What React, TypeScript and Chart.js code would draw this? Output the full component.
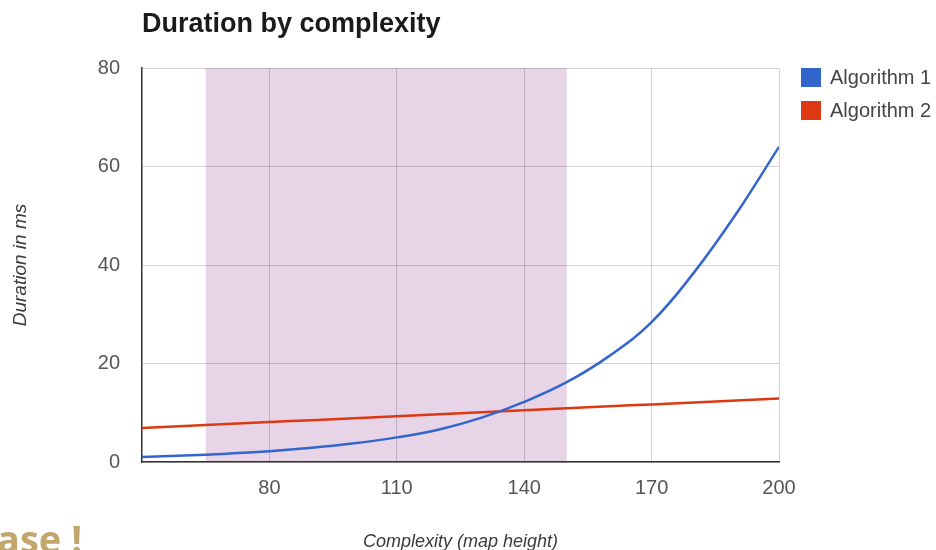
import React, { useEffect, useRef } from "react";
import { Chart, registerables } from "chart.js";

Chart.register(...registerables);

// ---- data ----
const X_VALUES = [50, 60, 70, 80, 90, 100, 110, 120, 130, 140, 150, 160, 170, 180, 190, 200];
const ALGO1 = [1.0, 1.3, 1.7, 2.2, 2.9, 3.8, 5.0, 6.6, 9.0, 12.2, 16.2, 21.5, 28.4, 38.5, 50.5, 64];
const ALGO2 = [6.9, 7.3, 7.7, 8.1, 8.5, 8.9, 9.3, 9.7, 10.1, 10.5, 10.9, 11.3, 11.7, 12.1, 12.5, 12.9];
const X_TICKS = [80, 110, 140, 170, 200];
const Y_TICKS = [0, 20, 40, 60, 80];
const X_RANGE = [50, 200];
const Y_RANGE = [0, 80];
const BAND = [65, 150];
const SERIES_LABELS = ["Algorithm 1", "Algorithm 2"];
const SERIES_COLORS = ["#3366cc", "#dc3912"];
const TITLE = "Duration by complexity";
const X_TITLE = "Complexity (map height)";
const Y_TITLE = "Duration in ms";
const CORNER_TEXT = "ase !";

const FONT = "'Liberation Sans', Arial, sans-serif";

const decorPlugin = {
  id: "decor",
  beforeDraw(chart: any) {
    const { ctx, chartArea, scales } = chart;
    const x0 = scales.x.getPixelForValue(BAND[0]);
    const x1 = scales.x.getPixelForValue(BAND[1]);
    ctx.save();
    ctx.fillStyle = "#e8d4e7";
    ctx.fillRect(x0, chartArea.top, x1 - x0, chartArea.bottom - chartArea.top);
    ctx.restore();
  },
  afterDraw(chart: any) {
    const { ctx, chartArea } = chart;
    ctx.save();
    // title
    ctx.fillStyle = "#1a1a1a";
    ctx.font = `bold 27px ${FONT}`;
    ctx.textAlign = "left";
    ctx.textBaseline = "alphabetic";
    ctx.fillText(TITLE, chartArea.left, 32);

    // x title
    ctx.fillStyle = "#3a3a3a";
    ctx.font = `italic 18px ${FONT}`;
    ctx.textAlign = "center";
    ctx.fillText(X_TITLE, (chartArea.left + chartArea.right) / 2, 547);

    // y title
    ctx.save();
    ctx.translate(26, (chartArea.top + chartArea.bottom) / 2);
    ctx.rotate(-Math.PI / 2);
    ctx.font = `italic 19px ${FONT}`;
    ctx.textAlign = "center";
    ctx.textBaseline = "alphabetic";
    ctx.fillText(Y_TITLE, 0, 0);
    ctx.restore();

    // legend
    chart.data.datasets.forEach((ds: any, i: number) => {
      const top = 68 + i * 33;
      ctx.fillStyle = ds.borderColor;
      ctx.fillRect(801, top, 20, 19);
      ctx.fillStyle = "#444";
      ctx.font = `20px ${FONT}`;
      ctx.textAlign = "left";
      ctx.textBaseline = "middle";
      ctx.fillText(ds.label, 830, top + 10);
    });

    // corner text (cut slide title)
    ctx.fillStyle = "#c2a66b";
    ctx.font = `bold 38px 'Open Sans', sans-serif`;
    ctx.textAlign = "right";
    ctx.textBaseline = "alphabetic";
    ctx.fillText(CORNER_TEXT, 82, 553);
    ctx.restore();
  },
};

export default function App() {
  const ref = useRef<HTMLCanvasElement | null>(null);

  useEffect(() => {
    document.body.style.margin = "0";
    const canvas = ref.current;
    if (!canvas) return;
    const chart = new Chart(canvas, {
      type: "line",
      data: {
        datasets: [
          {
            label: SERIES_LABELS[0],
            data: X_VALUES.map((x, i) => ({ x, y: ALGO1[i] })),
            borderColor: SERIES_COLORS[0],
            backgroundColor: SERIES_COLORS[0],
            borderWidth: 2.5,
            pointRadius: 0,
            tension: 0.4,
          },
          {
            label: SERIES_LABELS[1],
            data: X_VALUES.map((x, i) => ({ x, y: ALGO2[i] })),
            borderColor: SERIES_COLORS[1],
            backgroundColor: SERIES_COLORS[1],
            borderWidth: 2.5,
            pointRadius: 0,
            tension: 0.4,
          },
        ],
      },
      options: {
        animation: false,
        responsive: true,
        maintainAspectRatio: false,
        layout: { padding: { left: 0, top: 68, right: 157, bottom: 0 } },
        plugins: {
          legend: { display: false },
          title: { display: false },
          tooltip: { enabled: false },
        },
        scales: {
          x: {
            type: "linear",
            min: X_RANGE[0],
            max: X_RANGE[1],
            afterBuildTicks: (scale: any) => {
              scale.ticks = X_TICKS.map((v) => ({ value: v }));
            },
            afterFit: (scale: any) => {
              scale.height = 88;
            },
            grid: { color: "rgba(0,0,0,0.17)", lineWidth: 1, drawTicks: false },
            border: { color: "#333", width: 1.5 },
            ticks: {
              color: "#555",
              padding: 14,
              maxRotation: 0,
              font: { size: 20, family: FONT },
            },
          },
          y: {
            type: "linear",
            min: Y_RANGE[0],
            max: Y_RANGE[1],
            afterBuildTicks: (scale: any) => {
              scale.ticks = Y_TICKS.map((v) => ({ value: v }));
            },
            afterFit: (scale: any) => {
              scale.width = 142;
            },
            grid: { color: "rgba(0,0,0,0.17)", lineWidth: 1, drawTicks: false },
            border: { color: "#333", width: 1.5 },
            ticks: {
              color: "#555",
              padding: 22,
              font: { size: 20, family: FONT },
            },
          },
        },
      },
      plugins: [decorPlugin],
    } as any);
    return () => chart.destroy();
  }, []);

  return (
    <div style={{ position: "absolute", left: 0, top: 0, width: 936, height: 550, overflow: "hidden", background: "#fff" }}>
      <canvas ref={ref} />
    </div>
  );
}
